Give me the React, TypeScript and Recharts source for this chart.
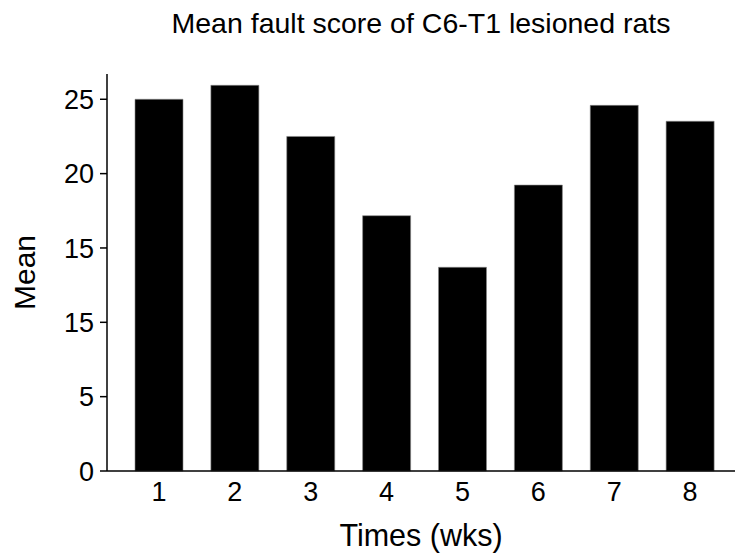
import React from "react";
import { BarChart, Bar, XAxis, YAxis } from "recharts";

const weeks = ["1", "2", "3", "4", "5", "6", "7", "8"];
const meanScores = [25.0, 25.94, 22.5, 17.17, 13.7, 19.23, 24.59, 23.52];
const yTickValues = [0, 5, 10, 15, 20, 25];
const yTickLabels = ["0", "5", "15", "15", "20", "25"];

const chartTitle = "Mean fault score of C6-T1 lesioned rats";
const xAxisTitle = "Times (wks)";
const yAxisTitle = "Mean";

const data = weeks.map((w, i) => ({ week: w, mean: meanScores[i] }));

const FONT = "'Liberation Sans', Arial, Helvetica, sans-serif";

export default function App() {
  return (
    <div
      style={{
        position: "absolute",
        left: 0,
        top: 0,
        width: 735,
        height: 558,
        background: "#fff",
        fontFamily: FONT,
      }}
    >
      <div
        style={{
          position: "absolute",
          left: 107,
          width: 628,
          top: 9,
          fontSize: 28.5,
          lineHeight: "28px",
          textAlign: "center",
          color: "#000",
          whiteSpace: "nowrap",
        }}
      >
        {chartTitle}
      </div>
      <BarChart
        width={735}
        height={558}
        data={data}
        margin={{ top: 74, right: 0, bottom: 0, left: 0 }}
        barSize={48}
      >
        <XAxis
          dataKey="week"
          height={87}
          padding={{ left: 14, right: 7 }}
          axisLine={{ stroke: "#000", strokeWidth: 1.5 }}
          tickLine={false}
          tickMargin={5}
          tick={{ fill: "#000", fontSize: 27, fontFamily: FONT }}
          label={{
            value: xAxisTitle,
            position: "insideBottom",
            offset: 12,
            fill: "#000",
            fontSize: 30.5,
            fontFamily: FONT,
          }}
        />
        <YAxis
          width={107}
          domain={[0, 26.7]}
          ticks={yTickValues}
          interval={0}
          tickFormatter={(v: number) => {
            const idx = yTickValues.indexOf(v);
            return idx >= 0 ? yTickLabels[idx] : String(v);
          }}
          axisLine={{ stroke: "#000", strokeWidth: 1.5 }}
          tickLine={{ stroke: "#000", strokeWidth: 1.5 }}
          tickSize={7}
          tickMargin={6}
          tick={{ fill: "#000", fontSize: 27, fontFamily: FONT }}
          label={{
            value: yAxisTitle,
            angle: -90,
            position: "insideLeft",
            offset: 24,
            fill: "#000",
            fontSize: 30,
            fontFamily: FONT,
            style: { textAnchor: "middle" },
          }}
        />
        <Bar
          dataKey="mean"
          fill="#000"
          stroke="#888"
          strokeWidth={0.6}
          isAnimationActive={false}
        />
      </BarChart>
    </div>
  );
}
